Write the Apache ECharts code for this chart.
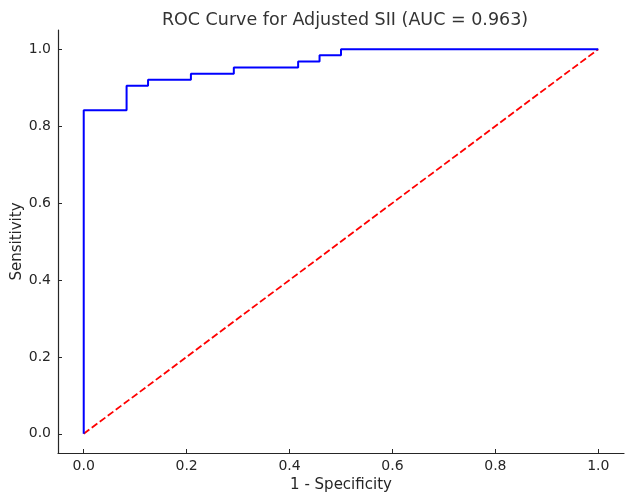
<!DOCTYPE html>
<html>
<head>
<meta charset="utf-8">
<script src="https://cdn.jsdelivr.net/npm/echarts@6/dist/echarts.min.js"></script>
<style>html,body{margin:0;padding:0;background:#fff}#c{width:633px;height:502px}</style>
</head>
<body>
<div id="c"></div>
<script>
const titleText = 'ROC Curve for Adjusted SII (AUC = 0.963)';
const fpr = [0, 0, 0.0833, 0.0833, 0.125, 0.125, 0.2083, 0.2083, 0.2917, 0.2917, 0.4167, 0.4167, 0.4583, 0.4583, 0.5, 0.5, 1];
const tpr = [0, 0.8413, 0.8413, 0.9048, 0.9048, 0.9206, 0.9206, 0.9365, 0.9365, 0.9524, 0.9524, 0.9683, 0.9683, 0.9841, 0.9841, 1, 1];
const diagX = [0, 1];
const diagY = [0, 1];
const tickValues = [0, 0.2, 0.4, 0.6, 0.8, 1.0];

const chart = echarts.init(document.getElementById('c'), null, {renderer: 'canvas'});
const font = 'DejaVu Sans';
const txt = '#262626';
function axis(name, gap, margin, moveOverlap) {
  return {
    type: 'value', min: -0.05, max: 1.05,
    name: name, nameLocation: 'middle', nameGap: gap, nameMoveOverlap: moveOverlap,
    nameTextStyle: {fontFamily: font, fontSize: 15, color: txt},
    axisLine: {show: true, onZero: false, lineStyle: {color: txt, width: 1.2}},
    axisTick: {show: true, inside: true, length: 4, customValues: tickValues, lineStyle: {color: txt, width: 1}},
    axisLabel: {customValues: tickValues, fontFamily: font, fontSize: 14, color: txt, margin: margin,
      formatter: v => v.toFixed(1)},
    splitLine: {show: false}
  };
}
chart.setOption({
  animation: false,
  backgroundColor: '#fff',
  title: {text: titleText, left: 340, top: 6, textAlign: 'center',
    textStyle: {fontFamily: font, fontSize: 17.5, fontWeight: 'normal', color: '#333'}},
  grid: {left: 58, right: 9, top: 30, bottom: 49, containLabel: false, outerBoundsMode: 'none'},
  xAxis: axis('1 - Specificity', 23, 6, true),
  yAxis: axis('Sensitivity', 33, 7, false),
  series: [
    {type: 'line', data: fpr.map((x, i) => [x, tpr[i]]), showSymbol: false, symbol: 'none',
     lineStyle: {color: '#0000ff', width: 2}, z: 3},
    {type: 'line', data: diagX.map((x, i) => [x, diagY[i]]), showSymbol: false, symbol: 'none',
     lineStyle: {color: '#ff0000', width: 1.8, type: [7, 3]}, z: 2}
  ]
});
</script>
</body>
</html>
